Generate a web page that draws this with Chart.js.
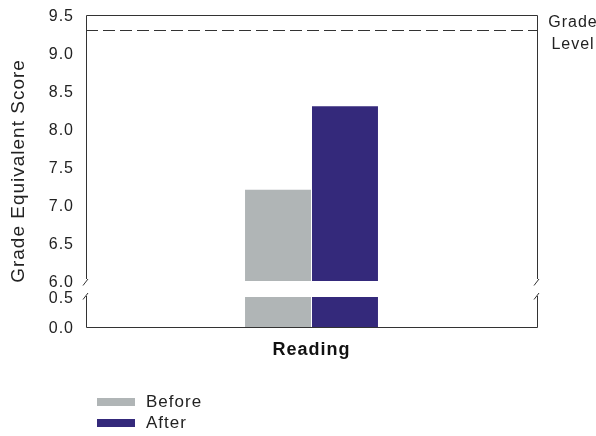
<!DOCTYPE html>
<html>
<head>
<meta charset="utf-8">
<script src="https://cdn.jsdelivr.net/npm/chart.js@4.4.1/dist/chart.umd.min.js"></script>
<style>
html,body{margin:0;padding:0;background:#fff;}
#wrap{position:relative;width:596px;height:436px;overflow:hidden;}
#wrap canvas{position:absolute;left:0;top:0;}
#legend{position:absolute;left:97px;top:391px;font-family:"Liberation Sans",Arial,sans-serif;font-size:17px;letter-spacing:1px;color:#222;}
.item{display:flex;align-items:center;height:21px;}
.box{width:38px;height:8px;margin-right:11px;}
</style>
</head>
<body>
<div id="wrap">
  <canvas id="upper" width="596" height="436"></canvas>
  <canvas id="lower" width="596" height="436"></canvas>
  <div id="legend"></div>
</div>
<script>
// ---- data ----
const categories = ['Reading'];
const seriesNames = ['Before', 'After'];
const beforeValues = [7.2];
const afterValues = [8.3];
const seriesColors = ['#b0b5b6', '#34297b'];
const gradeLevel = 9.3;
const gradeLevelLabel = ['Grade', 'Level'];
const upperRange = [6.0, 9.5];
const lowerRange = [0.0, 0.5];
const tickStep = 0.5;
const yTitle = 'Grade Equivalent Score';

const FONT = '"Liberation Sans", Arial, sans-serif';
const AXIS = '#333';

function makeDatasets() {
  return [beforeValues, afterValues].map((vals, i) => ({
    label: seriesNames[i],
    data: vals,
    backgroundColor: seriesColors[i],
    borderWidth: 0,
    barPercentage: 0.985,
    categoryPercentage: 0.297,
    clip: 0
  }));
}

function slash(ctx, x, y) {
  ctx.beginPath();
  ctx.moveTo(x - 3.5, y + 3.5);
  ctx.lineTo(x + 1.5, y - 3);
  ctx.stroke();
}

const spacingPlugin = {
  id: 'spacing',
  beforeDraw(chart) { chart.ctx.letterSpacing = '1px'; }
};

const upperDecor = {
  id: 'upperDecor',
  afterDatasetsDraw(chart) {
    const {ctx, chartArea: a, scales} = chart;
    ctx.save();
    ctx.strokeStyle = AXIS;
    ctx.lineWidth = 1;
    // frame
    ctx.beginPath();
    ctx.moveTo(a.left + 0.5, a.bottom - 2);
    ctx.lineTo(a.left + 0.5, a.top + 0.5);
    ctx.lineTo(a.right + 0.5, a.top + 0.5);
    ctx.lineTo(a.right + 0.5, a.bottom - 2);
    ctx.stroke();
    slash(ctx, a.left + 0.5, a.bottom + 1);
    slash(ctx, a.right + 0.5, a.bottom + 1);
    // grade level dashed line
    const y = Math.round(scales.y.getPixelForValue(gradeLevel)) + 0.5;
    ctx.setLineDash([12, 5]);
    ctx.beginPath();
    ctx.moveTo(a.left, y);
    ctx.lineTo(a.right, y);
    ctx.stroke();
    ctx.setLineDash([]);
    // grade level label
    ctx.fillStyle = '#222';
    ctx.font = '16px ' + FONT;
    ctx.letterSpacing = '1px';
    ctx.textAlign = 'center';
    ctx.textBaseline = 'middle';
    ctx.fillText(gradeLevelLabel[0], a.right + 36, 23);
    ctx.fillText(gradeLevelLabel[1], a.right + 36, 45);
    // y title
    ctx.translate(19, 171);
    ctx.rotate(-Math.PI / 2);
    ctx.font = '19px ' + FONT;
    ctx.fillText(yTitle, 0, 0);
    ctx.restore();
  }
};

const lowerDecor = {
  id: 'lowerDecor',
  afterDatasetsDraw(chart) {
    const {ctx, chartArea: a} = chart;
    ctx.save();
    ctx.strokeStyle = AXIS;
    ctx.lineWidth = 1;
    ctx.beginPath();
    ctx.moveTo(a.left + 0.5, a.top - 1);
    ctx.lineTo(a.left + 0.5, a.bottom + 0.5);
    ctx.lineTo(a.right + 0.5, a.bottom + 0.5);
    ctx.lineTo(a.right + 0.5, a.top - 1);
    ctx.stroke();
    slash(ctx, a.left + 0.5, a.top - 1);
    slash(ctx, a.right + 0.5, a.top - 1);
    ctx.restore();
  }
};

function yScale(range) {
  return {
    min: range[0],
    max: range[1],
    afterFit: s => { s.width = 86; s.paddingTop = 0; s.paddingBottom = 0; },
    afterBuildTicks: s => {
      const t = [];
      for (let v = range[0]; v <= range[1] + 1e-9; v += tickStep) t.push({value: +v.toFixed(2)});
      s.ticks = t;
    },
    ticks: {
      callback: v => Number(v).toFixed(1),
      font: {family: FONT, size: 16},
      color: '#222',
      padding: 12,
      labelOffset: 2
    },
    grid: {display: false, drawTicks: false},
    border: {display: false}
  };
}

const common = {
  responsive: false,
  animation: false,
  events: [],
  plugins: {legend: {display: false}, tooltip: {enabled: false}}
};

new Chart(document.getElementById('upper'), {
  type: 'bar',
  data: {labels: categories, datasets: makeDatasets()},
  options: Object.assign({}, common, {
    layout: {padding: {top: 15, right: 59, bottom: 155, left: 0}},
    scales: {
      x: {display: false},
      y: yScale(upperRange)
    }
  }),
  plugins: [spacingPlugin, upperDecor]
});

new Chart(document.getElementById('lower'), {
  type: 'bar',
  data: {labels: categories, datasets: makeDatasets()},
  options: Object.assign({}, common, {
    layout: {padding: {top: 297, right: 59, bottom: 59, left: 0}},
    scales: {
      x: {
        afterFit: s => { s.height = 50; },
        ticks: {font: {family: FONT, size: 18, weight: 'bold'}, color: '#111', padding: 12},
        grid: {display: false, drawTicks: false},
        border: {display: false}
      },
      y: yScale(lowerRange)
    }
  }),
  plugins: [spacingPlugin, lowerDecor]
});

// legend
const lg = document.getElementById('legend');
seriesNames.forEach((n, i) => {
  const it = document.createElement('div');
  it.className = 'item';
  const b = document.createElement('span');
  b.className = 'box';
  b.style.background = seriesColors[i];
  const t = document.createElement('span');
  t.textContent = n;
  it.appendChild(b); it.appendChild(t);
  lg.appendChild(it);
});
</script>
</body>
</html>
